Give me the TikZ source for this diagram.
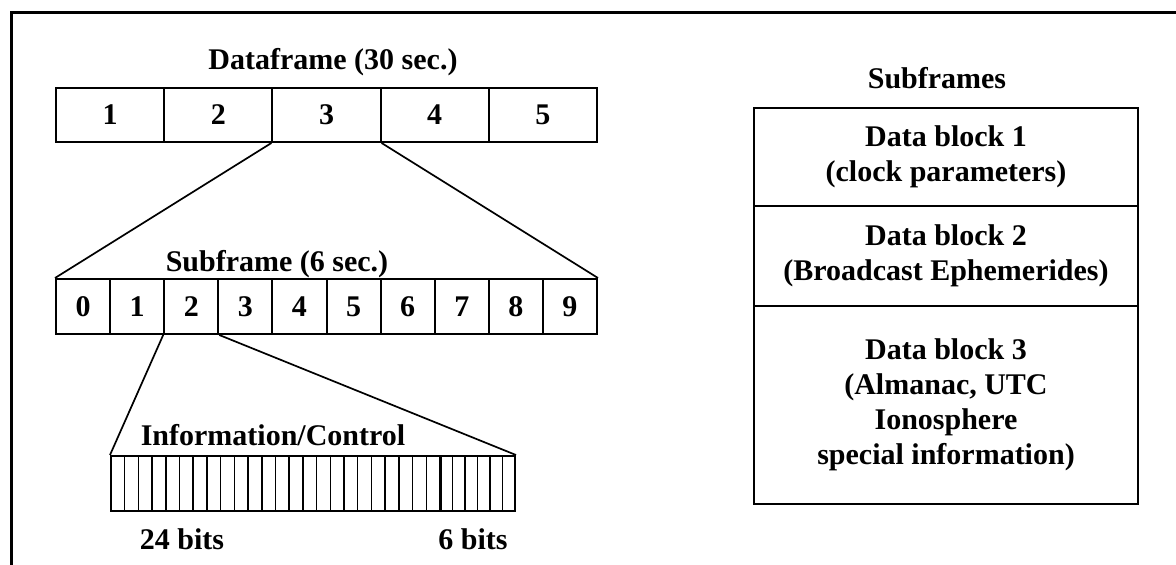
\documentclass[tikz,border=0pt]{standalone}
\usepackage{fontspec}
\setmainfont{Liberation Serif}
\begin{document}
\begin{tikzpicture}[x=1pt,y=-1pt,
  txt/.style={font=\fontsize{30}{35}\selectfont\bfseries, inner sep=0pt, align=center},
  cellbox/.style={draw, line width=2pt, inner sep=0pt, font=\fontsize{30}{35}\selectfont\bfseries},
  fan/.style={line width=1.7pt},
  bitline/.style={line width=1.5pt},
  blk/.style={draw, line width=2pt, inner sep=0pt, minimum width=384pt, align=center, font=\fontsize{30}{35}\selectfont\bfseries}]
\useasboundingbox (0,0) rectangle (1176,565);
% outer frame
\coordinate (fbl) at (11,570);
\coordinate (ftl) at (11,12);
\coordinate (ftr) at (1180,12);
\draw[line width=3pt] (fbl) -- (ftl) -- (ftr);
% dataframe
\node[txt] (dtitle) at (333,62) {Dataframe (30 sec.)};
\foreach \i in {1,...,5} {
  \node[cellbox, minimum width=108.2pt, minimum height=54pt] (d\i) at ({56+108.2*(\i-0.5)},115) {\i};
}
% subframe
\node[txt] (stitle) at (277,264) {Subframe (6 sec.)};
\foreach \i in {0,...,9} {
  \node[cellbox, minimum width=54.1pt, minimum height=55pt] (s\i) at ({56+54.1*(\i+0.5)},306.5) {\i};
}
\draw[fan] (d3.south west) -- (s0.north west);
\draw[fan] (d3.south east) -- (s9.north east);
% bits
\node[txt] (itext) at (273,435) {Information/Control};
\node[draw, line width=2pt, inner sep=0pt, minimum width=404pt, minimum height=55pt] (bits) at (313,483.5) {};
\foreach \k in {1,...,23} {
  \draw[bitline] ({111+13.708*\k},456) -- ({111+13.708*\k},511);
}
\draw[line width=3pt] (440,456) -- (440,511);
\foreach \k in {1,...,5} {
  \draw[bitline] ({440+12.5*\k},456) -- ({440+12.5*\k},511);
}
\draw[fan] (s2.south west) -- (bits.north west);
\draw[fan] (s2.south east) -- (bits.north east);
\node[txt] (b24) at (182,539) {24 bits};
\node[txt] (b6) at (473,539) {6 bits};
% subframes column
\node[txt] (sfs) at (937,78) {Subframes};
\node[blk, minimum height=98pt] (blk1) at (946,157) {Data block 1\\(clock parameters)};
\node[blk, minimum height=100pt] (blk2) at (946,256) {Data block 2\\(Broadcast Ephemerides)};
\node[blk, minimum height=198pt] (blk3) at (946,405) {Data block 3\\(Almanac, UTC\\Ionosphere\\special information)};
\end{tikzpicture}
\end{document}
